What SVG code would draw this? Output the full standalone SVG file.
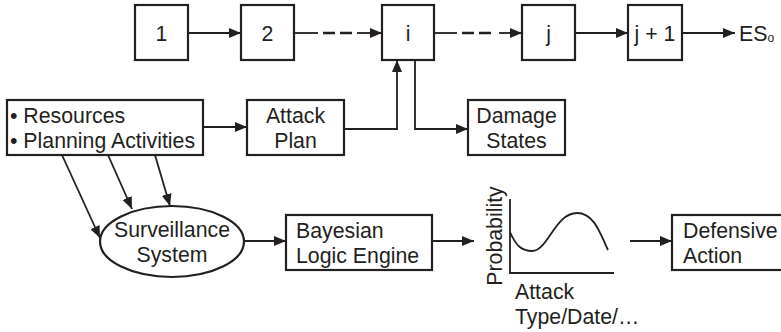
<svg xmlns="http://www.w3.org/2000/svg" width="781" height="332" viewBox="0 0 781 332">
  <style>
    .box { fill: #fff; stroke: #231f20; stroke-width: 2.2; }
    .txt { font-family: "Liberation Sans", Arial, sans-serif; font-size: 21.3px; fill: #231f20; }
    .mid { text-anchor: middle; }
    .ln { fill: none; stroke: #231f20; stroke-width: 1.8; }
    .dash { fill: none; stroke: #231f20; stroke-width: 2.4; stroke-dasharray: 12 5; }
  </style>
  <defs>
    <marker id="arrow" viewBox="0 0 12 10" refX="12" refY="5" markerWidth="12" markerHeight="10" markerUnits="userSpaceOnUse" orient="auto">
      <path d="M0,0 L12,5 L0,10 Z" fill="#231f20"/>
    </marker>
  </defs>
  <rect width="781" height="332" fill="#fff"/>

  <!-- state chain -->
  <g id="state-1"><rect class="box" x="135" y="5" width="53" height="55"/><text class="txt mid" x="161.5" y="40.5">1</text></g>
  <g id="state-2"><rect class="box" x="241" y="5" width="53" height="55"/><text class="txt mid" x="267.5" y="40.5">2</text></g>
  <g id="state-i"><rect class="box" x="382" y="5" width="52" height="55"/><text class="txt mid" x="408" y="40.5">i</text></g>
  <g id="state-j"><rect class="box" x="522" y="5" width="53" height="55"/><text class="txt mid" x="548.5" y="40.5">j</text></g>
  <g id="state-j1"><rect class="box" x="628" y="5" width="54" height="55"/><text class="txt mid" x="655" y="40.5">j + 1</text></g>
  <g id="end-state"><text class="txt" x="739" y="40.5">ES<tspan font-size="12" dy="1">o</tspan></text></g>

  <!-- inputs and plan -->
  <g id="resources">
    <rect class="box" x="7" y="100" width="196" height="55"/>
    <text class="txt" x="10" y="122.5">• Resources</text>
    <text class="txt" x="10" y="147.5">• Planning Activities</text>
  </g>
  <g id="attack-plan">
    <rect class="box" x="247" y="100" width="97" height="55"/>
    <text class="txt mid" x="295.5" y="122.5">Attack</text>
    <text class="txt mid" x="295.5" y="147.5">Plan</text>
  </g>
  <g id="damage-states">
    <rect class="box" x="468" y="100" width="97" height="55"/>
    <text class="txt mid" x="516.5" y="122.5">Damage</text>
    <text class="txt mid" x="516.5" y="147.5">States</text>
  </g>

  <!-- detection pipeline -->
  <g id="surveillance">
    <ellipse class="box" cx="172" cy="241.5" rx="72" ry="35.5"/>
    <text class="txt mid" x="172" y="236.5">Surveillance</text>
    <text class="txt mid" x="172" y="262">System</text>
  </g>
  <g id="bayesian">
    <rect class="box" x="286" y="215" width="146" height="55"/>
    <text class="txt" x="296" y="237.5">Bayesian</text>
    <text class="txt" x="296" y="262.5">Logic Engine</text>
  </g>
  <g id="probability-plot">
    <path class="ln" d="M510,199 V273 H614" stroke-width="2"/>
    <path class="ln" d="M510,232 C516,246 522,251 532,251 C548,251 555,213 577,213 C595,213 601,236 608,250" stroke-width="2"/>
    <text class="txt mid" transform="translate(502,236) rotate(-90)">Probability</text>
    <text class="txt" x="515" y="298.5">Attack</text>
    <text class="txt" x="515" y="323.5">Type/Date/…</text>
  </g>
  <g id="defensive-action">
    <rect class="box" x="672" y="215" width="112" height="55"/>
    <text class="txt" x="683" y="237.5">Defensive</text>
    <text class="txt" x="683" y="262.5">Action</text>
  </g>

  <g id="connectors">
    <line class="ln" x1="188" y1="33" x2="241" y2="33" marker-end="url(#arrow)"/>
    <line class="ln" x1="294" y1="33" x2="318" y2="33"/>
    <line class="dash" x1="323" y1="33" x2="352" y2="33"/>
    <line class="ln" x1="357" y1="33" x2="382" y2="33" stroke-width="2.4" marker-end="url(#arrow)"/>
    <line class="ln" x1="434" y1="33" x2="457" y2="33"/>
    <line class="dash" x1="462" y1="33" x2="494" y2="33"/>
    <line class="ln" x1="499" y1="33" x2="522" y2="33" stroke-width="2.4" marker-end="url(#arrow)"/>
    <line class="ln" x1="575" y1="33" x2="628" y2="33" marker-end="url(#arrow)"/>
    <line class="ln" x1="682" y1="33" x2="735" y2="33" marker-end="url(#arrow)"/>
    <line class="ln" x1="203" y1="127" x2="247" y2="127" marker-end="url(#arrow)"/>
    <polyline class="ln" points="344,129 397,129 397,60" marker-end="url(#arrow)"/>
    <polyline class="ln" points="415,60 415,129 468,129" marker-end="url(#arrow)"/>
    <line class="ln" x1="62" y1="155" x2="100" y2="238" marker-end="url(#arrow)"/>
    <line class="ln" x1="108" y1="155" x2="132" y2="209" marker-end="url(#arrow)"/>
    <line class="ln" x1="155" y1="155" x2="170" y2="206" marker-end="url(#arrow)"/>
    <line class="ln" x1="244" y1="241" x2="286" y2="241" marker-end="url(#arrow)"/>
    <line class="ln" x1="432" y1="241" x2="474" y2="241" marker-end="url(#arrow)"/>
    <line class="ln" x1="630" y1="241" x2="672" y2="241" marker-end="url(#arrow)"/>
  </g>
</svg>
